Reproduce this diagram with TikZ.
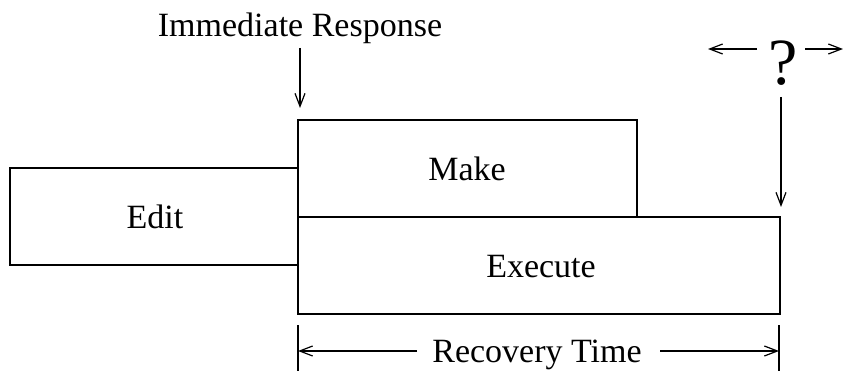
\documentclass[tikz,border=0pt]{standalone}
\usepackage{fontspec}
\setmainfont{Liberation Serif}
\usetikzlibrary{arrows.meta}
\begin{document}
\begin{tikzpicture}[x=1pt,y=-1pt,
  box/.style={draw,line width=1.4pt,rectangle,inner sep=0pt},
  lbl/.style={font=\fontsize{34}{40}\selectfont,inner sep=0pt,anchor=base},
  arr/.style={line width=1.2pt,-{Straight Barb[length=13pt,width=10pt]}},
  tick/.style={line width=1.2pt}]
\useasboundingbox (0,0) rectangle (843,371);
\node[box,minimum width=288pt,minimum height=97pt] (edit) at (154,216.5) {};
\node[box,minimum width=339pt,minimum height=97pt] (make) at (467.5,168.5) {};
\node[box,minimum width=482pt,minimum height=97pt] (exec) at (539,265.5) {};
\node[lbl] (editl) at (155,229) {Edit};
\node[lbl] (makel) at (467,181) {Make};
\node[lbl] (execl) at (541,278) {Execute};
\node[lbl] (ir) at (300,37) {Immediate Response};
\coordinate (irs) at (300,48);
\coordinate (irt) at (300,108);
\draw[arr] (irs) -- (irt);
\node[inner sep=0pt,anchor=base,font=\fontsize{66}{70}\selectfont] (q) at (783,85) {?};
\coordinate (qla) at (757,49);
\coordinate (ql) at (708,49);
\coordinate (qra) at (805,49);
\coordinate (qr) at (843,49);
\draw[arr] (qla) -- (ql);
\draw[arr] (qra) -- (qr);
\coordinate (qds) at (781,97);
\coordinate (qd) at (781,207);
\draw[arr] (qds) -- (qd);
\coordinate (t1a) at (298,325);
\coordinate (t1b) at (298,371);
\coordinate (t2a) at (779,325);
\coordinate (t2b) at (779,371);
\draw[tick] (t1a) -- (t1b);
\draw[tick] (t2a) -- (t2b);
\node[lbl] (rt) at (537,362) {Recovery Time};
\coordinate (rla) at (417,351);
\coordinate (rl) at (298,351);
\coordinate (rra) at (660,351);
\coordinate (rr) at (779,351);
\draw[arr] (rla) -- (rl);
\draw[arr] (rra) -- (rr);
\end{tikzpicture}
\end{document}
